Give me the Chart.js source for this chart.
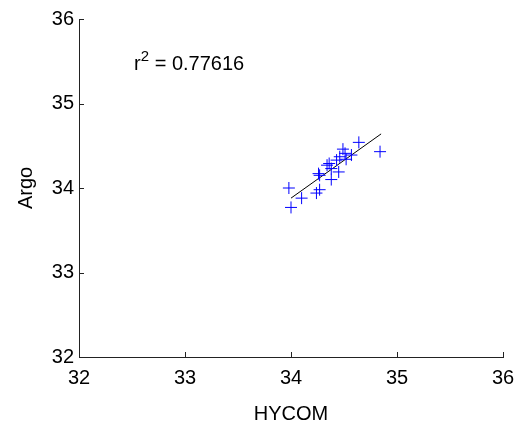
<!DOCTYPE html>
<html>
<head>
<meta charset="utf-8">
<script src="https://cdn.jsdelivr.net/npm/chart.js@4"></script>
<style>
  html, body { margin: 0; padding: 0; background: #fff; }
  #wrap { width: 529px; height: 424px; position: relative; }
</style>
</head>
<body>
<div id="wrap"><canvas id="c" width="529" height="424"></canvas></div>
<script>
// Data (HYCOM vs Argo)
const hycom = [34.84, 34.64, 34.49, 34.51, 34.46, 34.57, 34.43, 34.52, 34.36, 34.34,
               34.45, 34.38, 34.26, 34.27, 34.38, 34.27, 34.24, 33.98, 34.10, 34.00];
const argo  = [34.43, 34.54, 34.46, 34.41, 34.37, 34.39, 34.33, 34.34, 34.29, 34.27,
               34.19, 34.23, 34.17, 34.15, 34.10, 33.98, 33.94, 34.00, 33.88, 33.77];
const fitX = [34.00, 34.85];
const fitY = [33.88, 34.64];
const xTicks = [32, 33, 34, 35, 36];
const yTicks = [32, 33, 34, 35, 36];
const r2Text = "0.77616";

const FONT = "'Liberation Sans', Arial, Helvetica, sans-serif";

const inwardTicks = {
  id: 'inwardTicks',
  afterDraw(chart) {
    const ctx = chart.ctx;
    const xs = chart.scales.x, ys = chart.scales.y;
    const L = 5;
    ctx.save();
    ctx.strokeStyle = '#222';
    ctx.lineWidth = 1;
    ctx.beginPath();
    xTicks.forEach(v => {
      const px = Math.round(xs.getPixelForValue(v)) + 0.5;
      const py = ys.bottom;
      ctx.moveTo(px, py);
      ctx.lineTo(px, py - L);
    });
    yTicks.forEach(v => {
      const py = Math.round(ys.getPixelForValue(v)) + 0.5;
      const px = xs.left;
      ctx.moveTo(px, py);
      ctx.lineTo(px + L, py);
    });
    ctx.stroke();
    // r^2 annotation
    const ax = xs.getPixelForValue(32.52);
    const ay = ys.getPixelForValue(35.40);
    ctx.fillStyle = '#000';
    ctx.textBaseline = 'alphabetic';
    ctx.textAlign = 'left';
    ctx.font = "20px " + FONT;
    ctx.fillText('r', ax, ay);
    const rw = ctx.measureText('r').width;
    ctx.font = "15px " + FONT;
    ctx.fillText('2', ax + rw, ay - 9);
    const sw = ctx.measureText('2').width;
    ctx.font = "20px " + FONT;
    ctx.fillText(' = ' + r2Text, ax + rw + sw, ay);
    ctx.restore();
  }
};

new Chart(document.getElementById('c'), {
  type: 'scatter',
  data: {
    datasets: [
      {
        label: 'data',
        data: hycom.map((x, i) => ({ x: x, y: argo[i] })),
        pointStyle: 'cross',
        pointRadius: 6,
        pointHoverRadius: 6,
        borderColor: '#0000ff',
        backgroundColor: '#0000ff',
        borderWidth: 1,
        showLine: false
      },
      {
        label: 'fit',
        data: fitX.map((x, i) => ({ x: x, y: fitY[i] })),
        showLine: true,
        pointRadius: 0,
        borderColor: '#000',
        borderWidth: 1,
        fill: false
      }
    ]
  },
  options: {
    responsive: false,
    animation: false,
    events: [],
    layout: { padding: { top: 19, right: 26, left: 0, bottom: 0 } },
    plugins: { legend: { display: false }, tooltip: { enabled: false } },
    scales: {
      x: {
        type: 'linear',
        min: 32, max: 36,
        afterBuildTicks: s => { s.ticks = xTicks.map(v => ({ value: v })); },
        afterFit: s => { s.height = 67; },
        grid: { display: false, drawTicks: false },
        border: { display: true, color: '#222', width: 1 },
        ticks: { color: '#000', padding: 9, font: { family: FONT, size: 20 }, maxRotation: 0 },
        title: { display: true, text: 'HYCOM', color: '#000', font: { family: FONT, size: 20, lineHeight: 1 }, padding: { top: 0, bottom: 0 } }
      },
      y: {
        type: 'linear',
        min: 32, max: 36,
        afterBuildTicks: s => { s.ticks = yTicks.map(v => ({ value: v })); },
        afterFit: s => { s.width = 79; },
        grid: { display: false, drawTicks: false },
        border: { display: true, color: '#222', width: 1 },
        ticks: { color: '#000', padding: 5, font: { family: FONT, size: 20 } },
        title: { display: true, text: 'Argo', color: '#000', font: { family: FONT, size: 20, lineHeight: 1 }, padding: { top: 16, bottom: 0 } }
      }
    }
  },
  plugins: [inwardTicks]
});
</script>
</body>
</html>
